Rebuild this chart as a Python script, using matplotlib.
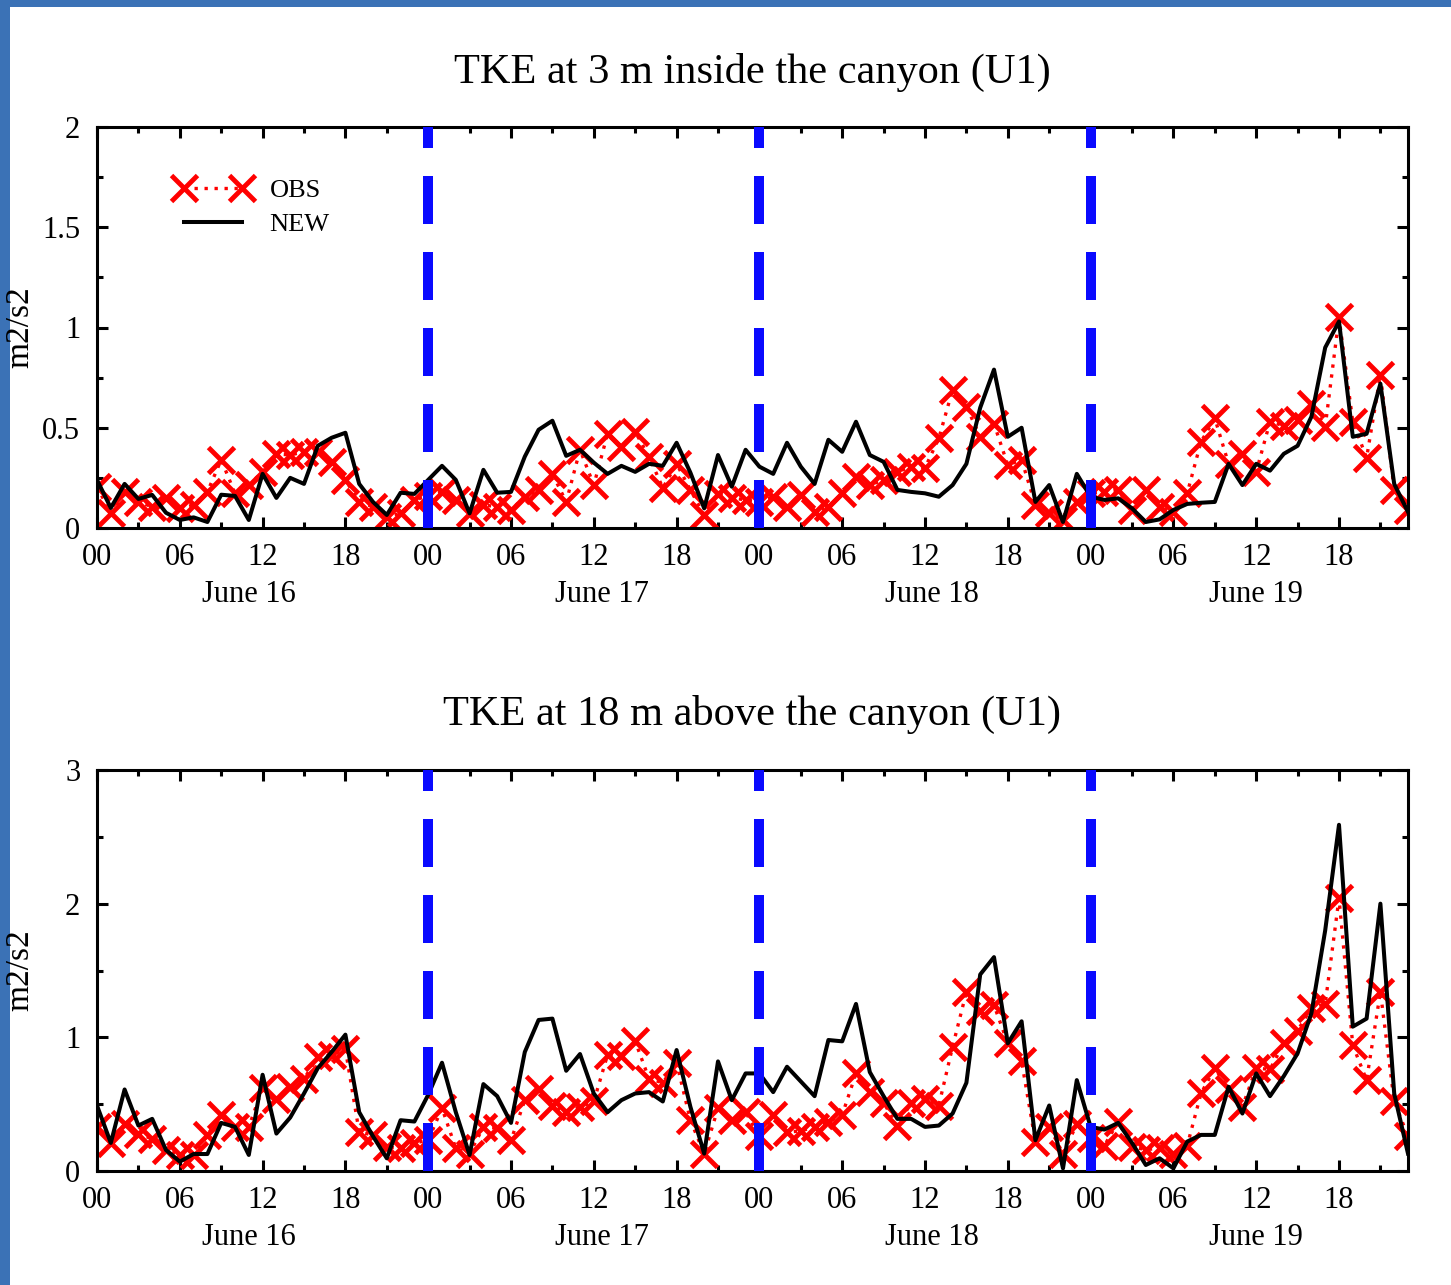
import numpy as np
import matplotlib
matplotlib.use("Agg")
import matplotlib.pyplot as plt
from matplotlib.patches import Rectangle
from matplotlib.ticker import MultipleLocator, FixedLocator

plt.rcParams['font.family'] = ['Liberation Serif', 'DejaVu Serif']

# ---------------- data ----------------
hours = np.arange(96)
tick_labels = ["00", "06", "12", "18"]
day_labels = ["June 16", "June 17", "June 18", "June 19"]
day_label_pos = [11.0, 36.6, 60.5, 84.0]
day_boundaries = [24, 48, 72]

top_new = [0.24, 0.10, 0.22, 0.145, 0.165, 0.076, 0.04, 0.053, 0.03, 0.166, 0.16, 0.04,
           0.27, 0.15, 0.25, 0.22, 0.41, 0.45, 0.475, 0.22, 0.13, 0.065, 0.176, 0.17,
           0.24, 0.31, 0.24, 0.073, 0.29, 0.176, 0.18, 0.356, 0.49, 0.535, 0.36, 0.39,
           0.326, 0.27, 0.31, 0.28, 0.32, 0.31, 0.425, 0.276, 0.098, 0.364, 0.206, 0.39,
           0.306, 0.27, 0.425, 0.306, 0.22, 0.44, 0.38, 0.53, 0.364, 0.33, 0.19, 0.18,
           0.173, 0.156, 0.214, 0.32, 0.60, 0.79, 0.455, 0.50, 0.13, 0.214, 0.03, 0.27,
           0.156, 0.14, 0.148, 0.098, 0.03, 0.043, 0.09, 0.12, 0.126, 0.13, 0.32, 0.214,
           0.32, 0.286, 0.37, 0.41, 0.555, 0.90, 1.03, 0.455, 0.47, 0.72, 0.22, 0.08]

top_obs = [0.206, 0.073, 0.18, 0.13, 0.106, 0.148, 0.098, 0.115, 0.18, 0.34, 0.173, 0.215,
           0.28, 0.37, 0.364, 0.38, 0.38, 0.33, 0.24, 0.13, 0.106, 0.056, 0.073, 0.14,
           0.16, 0.18, 0.14, 0.073, 0.115, 0.106, 0.09, 0.156, 0.19, 0.27, 0.13, 0.39,
           0.214, 0.47, 0.405, 0.48, 0.356, 0.20, 0.32, 0.19, 0.065, 0.17, 0.15, 0.14,
           0.13, 0.156, 0.106, 0.165, 0.08, 0.106, 0.173, 0.256, 0.214, 0.24, 0.28, 0.306,
           0.30, 0.447, 0.69, 0.605, 0.455, 0.52, 0.314, 0.34, 0.115, 0.073, 0.04, 0.13,
           0.173, 0.18, 0.19, 0.09, 0.19, 0.106, 0.08, 0.173, 0.43, 0.547, 0.32, 0.37,
           0.28, 0.53, 0.51, 0.54, 0.62, 0.505, 1.05, 0.53, 0.35, 0.763, 0.19, 0.09]

bot_new = [0.49, 0.21, 0.61, 0.34, 0.39, 0.157, 0.07, 0.127, 0.127, 0.36, 0.33, 0.12,
           0.72, 0.28, 0.40, 0.58, 0.77, 0.89, 1.02, 0.44, 0.26, 0.095, 0.38, 0.37,
           0.57, 0.81, 0.44, 0.12, 0.65, 0.56, 0.36, 0.89, 1.13, 1.14, 0.75, 0.875,
           0.58, 0.44, 0.53, 0.58, 0.59, 0.52, 0.905, 0.48, 0.13, 0.82, 0.53, 0.73,
           0.73, 0.59, 0.78, 0.67, 0.56, 0.98, 0.97, 1.25, 0.74, 0.56, 0.39, 0.39,
           0.33, 0.34, 0.43, 0.66, 1.47, 1.60, 0.955, 1.12, 0.23, 0.49, 0.02, 0.68,
           0.33, 0.31, 0.36, 0.21, 0.045, 0.095, 0.02, 0.22, 0.27, 0.27, 0.63, 0.43,
           0.73, 0.56, 0.71, 0.88, 1.18, 1.80, 2.59, 1.08, 1.14, 2.00, 0.58, 0.13]

bot_obs = [0.33, 0.21, 0.35, 0.28, 0.24, 0.16, 0.12, 0.12, 0.27, 0.42, 0.33, 0.33,
           0.62, 0.54, 0.63, 0.69, 0.85, 0.87, 0.91, 0.29, 0.27, 0.18, 0.17, 0.21,
           0.23, 0.47, 0.17, 0.13, 0.33, 0.32, 0.23, 0.53, 0.61, 0.49, 0.44, 0.48,
           0.52, 0.87, 0.86, 0.97, 0.69, 0.66, 0.81, 0.38, 0.13, 0.47, 0.38, 0.44,
           0.26, 0.42, 0.29, 0.30, 0.33, 0.37, 0.42, 0.73, 0.59, 0.51, 0.34, 0.51,
           0.54, 0.49, 0.93, 1.34, 1.20, 1.24, 0.955, 0.82, 0.22, 0.33, 0.13, 0.35,
           0.25, 0.19, 0.37, 0.18, 0.16, 0.17, 0.13, 0.19, 0.58, 0.77, 0.61, 0.48,
           0.77, 0.76, 0.955, 1.05, 1.22, 1.25, 2.04, 0.94, 0.68, 1.34, 0.52, 0.26]

titles = ["TKE at 3 m inside the canyon (U1)", "TKE at 18 m above the canyon (U1)"]
ylims = [(0, 2), (0, 3)]
ymajor = [0.5, 1.0]
yminor = [0.25, 0.5]

# ---------------- figure ----------------
W, H = 1451, 1285
fig = plt.figure(figsize=(W / 100, H / 100), dpi=100)
fig.patch.set_facecolor('#3b72b6')
bg = Rectangle((10 / W, 0), 1 - 10 / W, 1 - 7 / H, transform=fig.transFigure,
               facecolor='white', edgecolor='none', zorder=-10)
fig.add_artist(bg)

ax_rects = [[97 / W, 1 - 528 / H, 1311 / W, 401 / H],
            [97 / W, 1 - 1171 / H, 1311 / W, 401 / H]]
title_y = [72, 714]

datasets = [(top_obs, top_new), (bot_obs, bot_new)]

for i in range(2):
    ax = fig.add_axes(ax_rects[i])
    ax.set_facecolor('none')
    obs, new = datasets[i]
    l_obs, = ax.plot(hours, obs, color='#ff0000', linestyle=(0, (1, 2)), linewidth=2.4,
                     marker='x', markersize=19, markeredgewidth=3.5, zorder=2, label='OBS')
    l_new, = ax.plot(hours, new, color='black', linewidth=2.9, zorder=3, label='NEW')
    for xb in day_boundaries:
        ax.plot([xb, xb], [ylims[i][0], ylims[i][1]], color='#0a0aff', linewidth=7.2,
                linestyle=(0, (4.8, 2.8)), solid_capstyle='butt', dash_capstyle='butt',
                zorder=4, clip_on=False)
    ax.set_xlim(0, 95)
    ax.set_ylim(*ylims[i])
    ax.xaxis.set_major_locator(FixedLocator(np.arange(0, 96, 6)))
    ax.set_xticklabels([tick_labels[k % 4] for k in range(16)])
    ax.xaxis.set_minor_locator(FixedLocator(np.arange(3, 96, 6)))
    ax.yaxis.set_major_locator(MultipleLocator(ymajor[i]))
    ax.yaxis.set_minor_locator(MultipleLocator(yminor[i]))
    ax.yaxis.set_major_formatter(plt.FuncFormatter(lambda v, p: f"{v:g}"))
    ax.tick_params(which='both', direction='in', top=True, right=True, width=2.2,
                   labelsize=22, colors='black')
    ax.tick_params(which='major', length=8)
    ax.tick_params(which='minor', length=4.5)
    ax.tick_params(axis='x', which='major', pad=11)
    ax.tick_params(axis='y', which='major', pad=12)
    for s in ax.spines.values():
        s.set_linewidth(2.2)
    for k, lab in enumerate(day_labels):
        ax.text(day_label_pos[k], -0.167, lab, transform=ax.get_xaxis_transform(),
                ha='center', va='center', fontsize=22)
    ax.set_ylabel('m2/s2', fontsize=24)
    ax.yaxis.set_label_coords(-0.047, 0.5)
    fig.text(752 / W, 1 - title_y[i] / H, titles[i], ha='center', va='center', fontsize=30.5)
    if i == 0:
        ax.legend(handles=[l_obs, l_new], loc='upper left', bbox_to_anchor=(0.042, 0.93),
                  frameon=False, fontsize=19, numpoints=2, handlelength=2.8,
                  handletextpad=0.75, labelspacing=0.38)

fig.savefig('out.png', dpi=100)
